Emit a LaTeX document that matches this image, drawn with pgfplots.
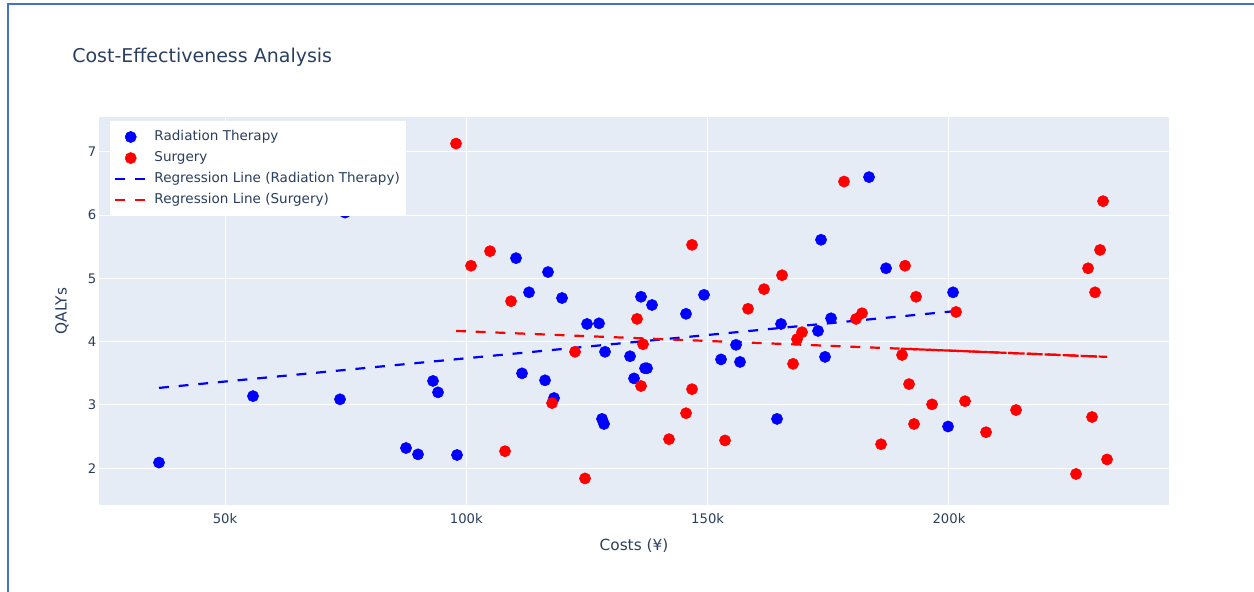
\documentclass[border=0pt]{standalone}
\usepackage{pgfplots}
\pgfplotsset{compat=1.18}
\usepackage{fontspec}
\setmainfont{DejaVu Sans}
\definecolor{plotbg}{HTML}{E5ECF6}
\definecolor{txt}{HTML}{2A3F5F}
\definecolor{frameblue}{HTML}{4472C4}
\definecolor{pblue}{RGB}{0,0,255}
\definecolor{pred}{RGB}{255,0,0}
\begin{document}
\begin{tikzpicture}
\path[use as bounding box] (0,0) rectangle (940.5pt,444pt);
\draw[frameblue, line width=1.5pt] (6pt,0) -- (6pt,441pt) -- (940.5pt,441pt);
\node[anchor=west, text=txt, font=\fontsize{14.25}{16}\selectfont, inner sep=0pt] at (54pt,401.25pt) {Cost-Effectiveness Analysis};
\begin{axis}[
 at={(74.25pt,65.25pt)}, anchor=south west,
 scale only axis, width=802.5pt, height=291pt,
 xmin=23892, xmax=245586, ymin=1.42, ymax=7.55,
 axis background/.style={fill=plotbg},
 axis line style={draw=none},
 major tick length=0pt,
 grid=major, grid style={white, line width=0.75pt},
 xtick={50000,100000,150000,200000}, xticklabels={50k,100k,150k,200k},
 ytick={2,3,4,5,6,7},
 scaled x ticks=false,
 /pgf/number format/assume math mode=true,
 ticklabel style={font=\fontsize{9.9}{12}\selectfont, text=txt},
 xticklabel style={anchor=north, inner sep=0pt, yshift=-6pt},
 yticklabel style={anchor=east, inner sep=0pt, xshift=-1.8pt},
 xlabel={Costs (¥)}, ylabel={QALYs},
 every axis x label/.style={at={(axis description cs:0.5,-0.104)}, anchor=center, font=\fontsize{11.5}{14}\selectfont, text=txt},
 every axis y label/.style={at={(axis description cs:-0.0346,0.5)}, rotate=90, anchor=center, font=\fontsize{11.5}{14}\selectfont, text=txt},
 legend style={at={(axis description cs:0.0103,0.99)}, anchor=north west, draw=none, fill=white,
   font=\fontsize{10.15}{12}\selectfont, text=txt, cells={anchor=west}, row sep=0pt, column sep=3.5pt,
   inner xsep=3pt, inner ysep=4pt, nodes={inner ysep=3pt, text height=7.4pt, text depth=2.4pt}},
 legend image code/.code={\draw[#1, mark repeat=2, mark phase=2] plot coordinates {(0pt,0pt) (11.5pt,0pt) (23pt,0pt)};},
]
% Radiation Therapy
\addplot[only marks, mark=*, mark size=4.2pt, color=pblue] coordinates {
(36325,2.09) (55802,3.14) (73828,3.09) (74864,6.04) (87503,2.32) (89990,2.22)
(93098,3.38) (94134,3.20) (98070,2.21) (110295,5.32) (111538,3.50) (112989,4.78)
(116304,3.39) (116926,5.10) (118169,3.11) (119826,4.69) (125006,4.28) (127493,4.29)
(128114,2.78) (128529,2.70) (128736,3.84) (133916,3.77) (134745,3.42) (136195,4.71)
(137024,3.58) (137438,3.58) (138474,4.58) (145519,4.44) (149249,4.74) (152771,3.72)
(155879,3.95) (156708,3.68) (164374,2.78) (165203,4.28) (172870,4.17) (173491,5.61)
(174320,3.76) (175563,4.37) (183437,6.60) (186959,5.16) (199806,2.66) (200842,4.78)
};
\addlegendentry{Radiation Therapy}
% Surgery
\addplot[only marks, mark=*, mark size=4.2pt, color=pred] coordinates {
(97863,7.13) (100971,5.20) (104908,5.43) (108016,2.27) (109259,4.64) (117754,3.03)
(122520,3.84) (124592,1.84) (135366,4.36) (136195,3.30) (136610,3.96) (141997,2.46)
(145519,2.87) (146762,5.53) (146762,3.25) (153600,2.44) (158366,4.52) (161681,4.83)
(165410,5.05) (167690,3.65) (168518,4.04) (169554,4.15) (178257,6.53) (180743,4.36)
(181986,4.45) (185923,2.38) (190274,3.79) (190896,5.20) (191725,3.33) (192761,2.70)
(193175,4.71) (196490,3.01) (201463,4.47) (203328,3.06) (207679,2.57) (213895,2.92)
(226327,1.91) (228814,5.16) (229642,2.81) (230264,4.78) (231300,5.45) (231922,6.22)
(232750,2.14)
};
\addlegendentry{Surgery}
\addplot[color=pblue, line width=1.65pt, dash pattern=on 7.4pt off 7.4pt] coordinates {(36325,3.27) (200842,4.48)};
\addlegendentry{Regression Line (Radiation Therapy)}
\addplot[color=pred, line width=1.65pt, dash pattern=on 7.4pt off 7.4pt] coordinates {(97863,4.17) (232750,3.76)};
\addlegendentry{Regression Line (Surgery)}
\addplot[color=pred, line width=1.65pt, dash pattern=on 12pt off 1.5pt, forget plot] coordinates {(190000,3.89) (232750,3.76)};
\end{axis}
\end{tikzpicture}
\end{document}
